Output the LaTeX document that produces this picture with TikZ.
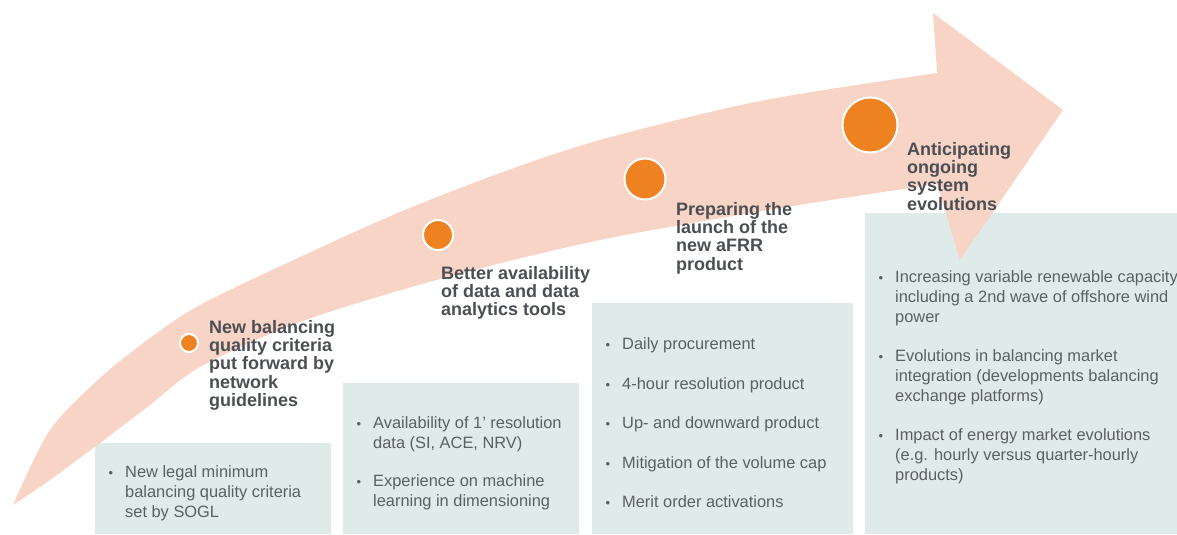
\documentclass[tikz,border=0pt]{standalone}
\usepackage{fontspec}
\setmainfont{Liberation Sans}
\usetikzlibrary{positioning}
\definecolor{bandpink}{HTML}{F7D4C5}
\definecolor{boxteal}{HTML}{DFEBE8}
\definecolor{dotorange}{HTML}{EE8220}
\definecolor{headgrey}{HTML}{4B4F54}
\definecolor{bodygrey}{HTML}{5C6064}
\tikzstyle{infobox} = [rectangle, fill=boxteal, anchor=north west, inner sep=0pt]
\tikzstyle{bullets} = [anchor=west, align=left, inner sep=0pt, text=bodygrey,
    font=\fontsize{16.4}{20}\selectfont]
\tikzstyle{milestone} = [circle, fill=dotorange, draw=white, line width=2pt, inner sep=0pt]
\tikzstyle{heading} = [anchor=north west, align=left, inner sep=0pt, text=headgrey,
    font=\fontsize{18}{18.3}\selectfont\bfseries]
\tikzstyle{band} = [fill=bandpink]
\newcommand{\bul}{\llap{{\fontsize{13}{13}\selectfont\textbullet}\hspace{12pt}}}

\begin{document}
\begin{tikzpicture}[x=1pt, y=-1pt]
  \useasboundingbox (0,0) rectangle (1177,535);
  \node [infobox, minimum width=236pt, minimum height=91pt] (box1) at (95,443) {};
  \node [infobox, minimum width=236pt, minimum height=151pt] (box2) at (343,383) {};
  \node [infobox, minimum width=261pt, minimum height=231pt] (box3) at (592,303) {};
  \node [infobox, minimum width=320pt, minimum height=321pt] (box4) at (865,213) {};
  \node [bullets] (list1) at ([xshift=30pt, yshift=-5pt]box1.west)
    {\bul New legal minimum\\ balancing quality criteria\\ set by SOGL};
  \node [bullets] (list2) at ([xshift=30pt, yshift=-5pt]box2.west)
    {\bul Availability of 1’ resolution\\ data (SI, ACE, NRV)\\[18pt]
     \bul Experience on machine\\ learning in dimensioning};
  \node [bullets] (list3) at ([xshift=30pt, yshift=-4pt]box3.west)
    {\bul Daily procurement\\[19.5pt] \bul 4-hour resolution product\\[19.5pt]
     \bul Up- and downward product\\[19.5pt] \bul Mitigation of the volume cap\\[19.5pt]
     \bul Merit order activations};
  \node [bullets] (list4) at ([xshift=30pt, yshift=-4pt]box4.west)
    {\bul Increasing variable renewable capacity\\ including a 2nd wave of offshore wind\\ power\\[19pt]
     \bul Evolutions in balancing market\\ integration (developments balancing\\ exchange platforms)\\[19pt]
     \bul Impact of energy market evolutions\\ (e.g. hourly versus quarter-hourly\\ products)};
  \path [band] plot [smooth] coordinates {(13,505) (50,430) (100,378) (150,338) (200,305)
      (300,257) (400,212) (500,173) (600,140) (760,101) (937,73)}
    -- (933,13) -- (1063,110) -- (960,260)
    -- plot [smooth] coordinates {(937,184) (787,207) (600,240) (440,279) (300,322)
      (200,367) (150,405) (100,443) (50,480) (13,505)} -- cycle;
  \node [milestone, minimum size=18pt] (dot1) at (189,343) {};
  \node [milestone, minimum size=30pt] (dot2) at (438,235) {};
  \node [milestone, minimum size=41pt] (dot3) at (645,179) {};
  \node [milestone, minimum size=55pt] (dot4) at (870,125) {};
  \node [heading] (head1) at (209,320) {New balancing\\ quality criteria\\ put forward by\\ network\\ guidelines};
  \node [heading] (head2) at (441,266) {Better availability\\ of data and data\\ analytics tools};
  \node [heading] (head3) at (676,202) {Preparing the\\ launch of the\\ new aFRR\\ product};
  \node [heading] (head4) at (907,142) {Anticipating\\ ongoing\\ system\\ evolutions};
\end{tikzpicture}
\end{document}
